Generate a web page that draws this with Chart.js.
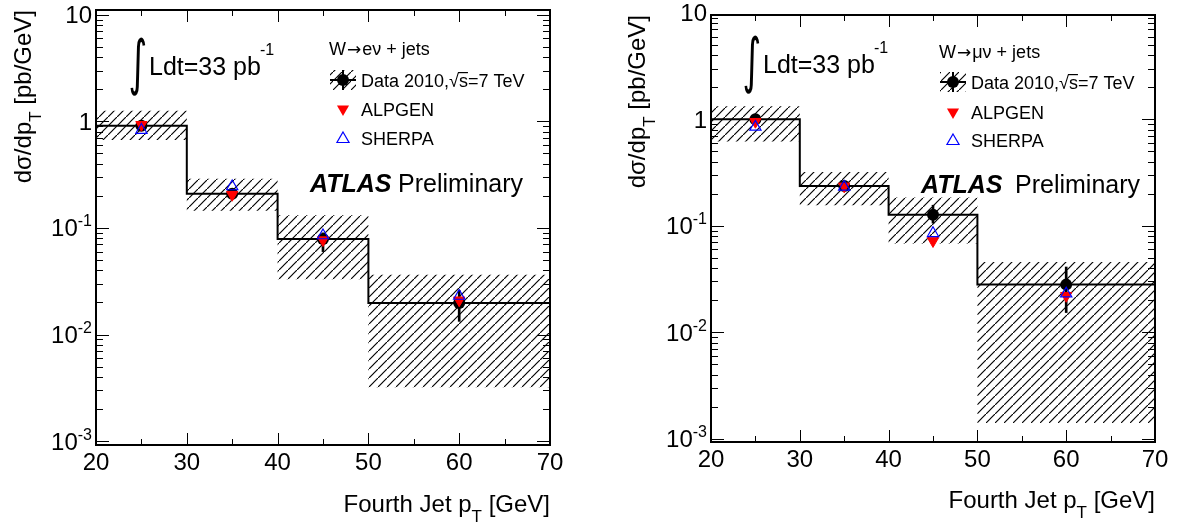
<!DOCTYPE html>
<html>
<head>
<meta charset="utf-8">
<script src="https://cdn.jsdelivr.net/npm/chart.js@4.4.1/dist/chart.umd.min.js"></script>
<style>
  html, body { margin: 0; padding: 0; background: #fff; }
  #wrap { position: relative; width: 1179px; height: 524px; }
  canvas { position: absolute; top: 0; }
</style>
</head>
<body>
<div id="wrap">
  <canvas id="elChart" width="590" height="524" style="left:0"></canvas>
  <canvas id="muChart" width="589" height="524" style="left:590px"></canvas>
</div>
<script>
// ---- data ----
const binEdges   = [20, 30, 40, 50, 70];
const binCentres = [25, 35, 45, 60];
const xTicks     = [20, 30, 40, 50, 60, 70];
const yDecades   = [-3, -2, -1, 0, 1];

// W -> e nu + jets
const elData    = [0.91, 0.21, 0.079, 0.0198];
const elStatLo  = [0.87, 0.195, 0.060, 0.0133];
const elStatHi  = [0.96, 0.225, 0.090, 0.026];
const elSystLo  = [0.67, 0.145, 0.033, 0.0032];
const elSystHi  = [1.26, 0.29, 0.132, 0.0365];
const elAlpgen  = [0.93, 0.205, 0.077, 0.021];
const elSherpa  = [0.83, 0.245, 0.085, 0.023];

// W -> mu nu + jets
const muData    = [1.0, 0.236, 0.127, 0.028];
const muStatLo  = [0.96, 0.215, 0.106, 0.0153];
const muStatHi  = [1.05, 0.255, 0.156, 0.041];
const muSystLo  = [0.62, 0.156, 0.068, 0.0014];
const muSystHi  = [1.33, 0.32, 0.184, 0.0457];
const muAlpgen  = [0.95, 0.235, 0.072, 0.022];
const muSherpa  = [0.85, 0.232, 0.085, 0.023];

const FAM = '"Liberation Sans", Arial, Helvetica, sans-serif';
const font = (size, style) => (style ? style + ' ' : '') + size + 'px ' + FAM;

// diagonal hatch like ROOT fill style 3004
const hatch = (() => {
  const tile = document.createElement('canvas');
  tile.width = 9; tile.height = 9;
  const g = tile.getContext('2d');
  g.strokeStyle = '#000';
  g.lineWidth = 1.15;
  g.beginPath(); g.moveTo(-2, 11); g.lineTo(11, -2); g.stroke();
  return g.createPattern(tile, 'repeat');
})();

// histogram-style points: value at each lower edge, last value repeated at the end
function stepPoints(vals) {
  const pts = vals.map((v, i) => ({ x: binEdges[i], y: v }));
  pts.push({ x: binEdges[binEdges.length - 1], y: vals[vals.length - 1] });
  return pts;
}
const centrePoints = vals => vals.map((v, i) => ({ x: binCentres[i], y: v }));

// text made of pieces (superscripts / subscripts / other fonts)
function drawRich(ctx, parts, x, y, align) {
  let w = 0;
  parts.forEach(p => { ctx.font = p.font; w += ctx.measureText(p.t).width + (p.dx || 0); });
  let cx = align === 'right' ? x - w : x;
  ctx.textAlign = 'left';
  parts.forEach(p => {
    ctx.font = p.font;
    cx += p.dx || 0;
    ctx.fillText(p.t, cx, y + (p.dy || 0));
    cx += ctx.measureText(p.t).width;
  });
  return w;
}

function dot(ctx, x, y, r) {
  ctx.beginPath(); ctx.arc(x, y, r, 0, Math.PI * 2); ctx.fillStyle = '#000'; ctx.fill();
}
function triangle(ctx, x, y, r, down) {
  const s = down ? -1 : 1;
  ctx.beginPath();
  ctx.moveTo(x, y - s * r);
  ctx.lineTo(x + 0.866 * r, y + s * 0.5 * r);
  ctx.lineTo(x - 0.866 * r, y + s * 0.5 * r);
  ctx.closePath();
}

// frame, inward ticks, labels, legend and captions in ROOT style
const rootStyle = {
  id: 'rootStyle',
  afterDraw(chart, args, o) {
    const ctx = chart.ctx, a = chart.chartArea;
    const xs = chart.scales.x, ys = chart.scales.y;
    ctx.save();
    ctx.fillStyle = '#000';
    ctx.strokeStyle = '#000';
    ctx.textBaseline = 'alphabetic';

    // y ticks (both sides)
    ctx.lineWidth = 1;
    ctx.beginPath();
    for (let e = -4; e <= 1; e++) {
      for (let m = 1; m <= 9; m++) {
        const v = m * Math.pow(10, e);
        if (v < ys.min || v > ys.max) continue;
        const py = Math.round(ys.getPixelForValue(v)) + 0.5;
        const len = m === 1 ? 13 : 7;
        ctx.moveTo(a.left, py); ctx.lineTo(a.left + len, py);
        ctx.moveTo(a.right, py); ctx.lineTo(a.right - len, py);
      }
    }
    // x ticks (bottom and top)
    for (let v = 20; v <= 70; v += 5) {
      const px = Math.round(xs.getPixelForValue(v)) + 0.5;
      const len = v % 10 === 0 ? 12 : 6;
      ctx.moveTo(px, a.bottom); ctx.lineTo(px, a.bottom - len);
      ctx.moveTo(px, a.top); ctx.lineTo(px, a.top + len);
    }
    ctx.stroke();

    ctx.lineWidth = 2;
    ctx.strokeRect(a.left, a.top, a.right - a.left, a.bottom - a.top);

    // x tick labels
    ctx.font = font(24);
    ctx.textAlign = 'center';
    xTicks.forEach(v => ctx.fillText(String(v), xs.getPixelForValue(v), o.xLabelBase));

    // y tick labels
    yDecades.forEach(e => {
      const py = ys.getPixelForValue(Math.pow(10, e)) + 8.5;
      const parts = e === 0 ? [{ t: '1', font: font(24) }]
        : e === 1 ? [{ t: '10', font: font(24) }]
        : [{ t: '10', font: font(24) }, { t: String(e), font: font(16), dy: -10 }];
      drawRich(ctx, parts, a.left - 4, py, 'right');
    });

    // x title
    drawRich(ctx, [
      { t: 'Fourth Jet p', font: font(24) },
      { t: 'T', font: font(17), dy: 10 },
      { t: ' [GeV]', font: font(24) }
    ], a.right, o.xTitleBase, 'right');

    // y title
    ctx.save();
    ctx.translate(o.yTitleX, a.top);
    ctx.rotate(-Math.PI / 2);
    drawRich(ctx, [
      { t: 'd\u03c3/dp', font: font(24) },
      { t: 'T', font: font(17), dy: 10 },
      { t: ' [pb/GeV]', font: font(24) }
    ], 0, 0, 'right');
    ctx.restore();

    // luminosity
    ctx.save();
    ctx.translate(o.lumiX, o.lumiBase);
    ctx.scale(0.75, 1.25);
    ctx.font = '48px "DejaVu Sans"';
    ctx.textAlign = 'left';
    ctx.fillText('\u222b', -2, 6);
    ctx.restore();
    drawRich(ctx, [
      { t: 'Ldt=33 pb', font: font(25) },
      { t: '-1', font: font(16), dy: -20, dx: -1 }
    ], o.lumiX + 19, o.lumiBase, 'left');

    // legend
    const lx = o.legX, tx = o.legX + 18;
    drawRich(ctx, [
      { t: 'W', font: font(18) },
      { t: '\u2192', font: '17px "DejaVu Sans"', dx: 1 },
      { t: o.header, font: font(18), dx: 1 }
    ], o.legX - 14, o.headerBase, 'left');

    const dy = o.legY[0];
    ctx.fillStyle = hatch;
    ctx.fillRect(lx - 13, dy - 10, 26, 20);
    ctx.fillStyle = '#000';
    ctx.fillRect(lx - 13, dy - 1, 26, 2);
    ctx.fillRect(lx - 1, dy - 10, 2, 20);
    dot(ctx, lx, dy, 6);
    ctx.font = font(18);
    ctx.textAlign = 'left';
    const pre = 'Data 2010,\u221a';
    ctx.fillText(pre + 's=7 TeV', tx, dy + 6.5);
    const sx = tx + ctx.measureText(pre).width;
    const sw = ctx.measureText('s').width;
    ctx.fillRect(sx - 1, dy - 8, sw + 1, 1.2);

    triangle(ctx, lx, o.legY[1], 7, true);
    ctx.fillStyle = '#f00'; ctx.fill();
    ctx.fillStyle = '#000';
    ctx.fillText('ALPGEN', tx, o.legY[1] + 6.5);

    triangle(ctx, lx, o.legY[2] + 1, 7, false);
    ctx.strokeStyle = '#00f'; ctx.lineWidth = 1.2; ctx.stroke();
    ctx.fillText('SHERPA', tx, o.legY[2] + 6.5);

    // ATLAS Preliminary
    ctx.font = font(25, 'italic bold');
    ctx.fillText('ATLAS', o.atlasX, o.atlasBase);
    ctx.font = font(25);
    ctx.fillText('Preliminary', o.prelimX, o.atlasBase);

    ctx.restore();
  }
};

function makePanel(id, s, o) {
  const errBars = binCentres.map((x, i) => ({ x, y: [s.statLo[i], s.statHi[i]] }));
  return new Chart(document.getElementById(id), {
    type: 'line',
    data: {
      datasets: [
        { label: 'syst up', data: stepPoints(s.systHi), stepped: true, borderColor: 'transparent',
          borderWidth: 0, pointRadius: 0, fill: false, order: 10 },
        { label: 'syst down', data: stepPoints(s.systLo), stepped: true, borderColor: 'transparent',
          borderWidth: 0, pointRadius: 0, fill: '-1', backgroundColor: hatch, order: 10 },
        { label: 'Data 2010', data: stepPoints(s.data), stepped: true, borderColor: '#000',
          borderWidth: 2, pointRadius: 0, fill: false, order: 9 },
        { type: 'bar', label: 'stat', data: errBars, backgroundColor: '#000', barThickness: 2,
          grouped: false, order: 8 },
        { label: 'Data points', data: centrePoints(s.data), showLine: false, pointStyle: 'circle',
          pointRadius: 6, backgroundColor: '#000', borderColor: '#000', borderWidth: 0, order: 7 },
        { label: 'ALPGEN', data: centrePoints(s.alpgen), showLine: false, pointStyle: 'triangle',
          rotation: 180, pointRadius: 6.5, backgroundColor: '#f00', borderColor: '#f00',
          borderWidth: 1, order: 6 },
        { label: 'SHERPA', data: centrePoints(s.sherpa), showLine: false, pointStyle: 'triangle',
          pointRadius: 6.5, backgroundColor: 'rgba(0,0,0,0)', borderColor: '#00f',
          borderWidth: 1.2, order: 5 }
      ]
    },
    options: {
      responsive: false,
      animation: false,
      events: [],
      layout: { padding: o.padding },
      scales: {
        x: { type: 'linear', min: 20, max: 70, offset: false, display: false },
        y: { type: 'logarithmic', min: o.yMin, max: o.yMax, display: false }
      },
      plugins: { legend: { display: false }, tooltip: { enabled: false }, rootStyle: o }
    },
    plugins: [rootStyle]
  });
}

makePanel('elChart',
  { data: elData, statLo: elStatLo, statHi: elStatHi, systLo: elSystLo, systHi: elSystHi,
    alpgen: elAlpgen, sherpa: elSherpa },
  { padding: { left: 96, right: 40, top: 10, bottom: 79 }, yMin: 9.2e-4, yMax: 11.1,
    xLabelBase: 470, xTitleBase: 512, yTitleX: 31,
    lumiX: 130, lumiBase: 75,
    header: 'e\u03bd + jets', headerBase: 55, legX: 343, legY: [80, 109, 138],
    atlasX: 310, prelimX: 398, atlasBase: 192 });

makePanel('muChart',
  { data: muData, statLo: muStatLo, statHi: muStatHi, systLo: muSystLo, systHi: muSystHi,
    alpgen: muAlpgen, sherpa: muSherpa },
  { padding: { left: 121, right: 24, top: 15, bottom: 82 }, yMin: 9.3e-4, yMax: 9.56,
    xLabelBase: 467, xTitleBase: 508, yTitleX: 55,
    lumiX: 154, lumiBase: 73,
    header: '\u03bc\u03bd + jets', headerBase: 58, legX: 363, legY: [82, 112, 140],
    atlasX: 331, prelimX: 425, atlasBase: 193 });
</script>
</body>
</html>
